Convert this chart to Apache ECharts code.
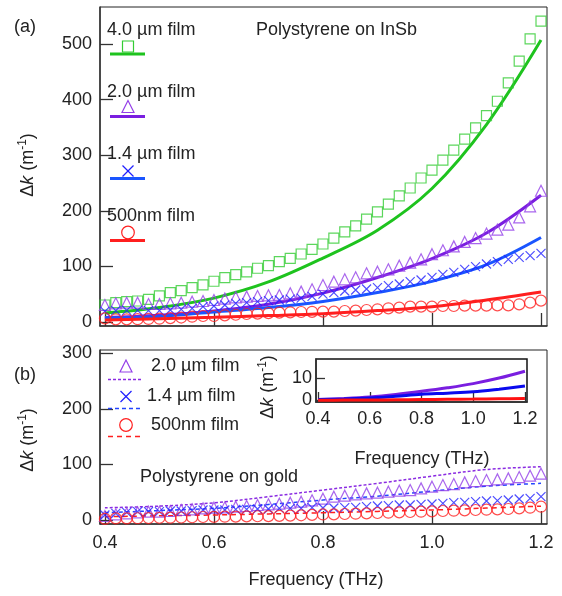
<!DOCTYPE html>
<html>
<head>
<meta charset="utf-8">
<script src="https://cdn.jsdelivr.net/npm/echarts@6/dist/echarts.min.js"></script>
<style>
  html, body { margin: 0; padding: 0; background: #fff; }
  #main { width: 562px; height: 596px; }
</style>
</head>
<body>
<div id="main"></div>
<script>
// measured frequencies (THz)
var freq = [0.40, 0.42, 0.44, 0.46, 0.48, 0.50, 0.52, 0.54, 0.56, 0.58,
            0.60, 0.62, 0.64, 0.66, 0.68, 0.70, 0.72, 0.74, 0.76, 0.78,
            0.80, 0.82, 0.84, 0.86, 0.88, 0.90, 0.92, 0.94, 0.96, 0.98,
            1.00, 1.02, 1.04, 1.06, 1.08, 1.10, 1.12, 1.14, 1.16, 1.18, 1.20];
// frequencies for the model curves
var fitFreq = [0.4, 0.5, 0.6, 0.7, 0.8, 0.9, 1.0, 1.1, 1.2];

var xTicks = [0.4, 0.6, 0.8, 1.0, 1.2];
var yTicksA = [0, 100, 200, 300, 400, 500];
var yTicksB = [0, 100, 200, 300];
var yTicksInset = [0, 10];

/* (a) polystyrene on InSb - measured */
var insb40 = [30.6, 34.8, 36.6, 37.8, 40.8, 46.8, 52.8, 56.5, 61.9, 66.7,
              73.3, 79.9, 85.3, 90.1, 96.7, 101.3, 108.5, 114.5, 122.3, 130.7,
              140.3, 151, 162, 173, 185, 198, 212, 227, 241, 259,
              273, 291, 309, 329, 349, 371, 397, 430, 469, 509, 541];
var insb20 = [30.6, 33.6, 34.8, 34.8, 32.4, 32.4, 33.6, 34.8, 36.6, 37.8,
              39.6, 42, 44.4, 45.6, 46.8, 48, 48.6, 51.6, 54.6, 58.8,
              66.5, 72.5, 76.7, 80.3, 87.5, 90.5, 94.7, 101.3, 106.7, 112.7,
              122, 129, 136, 144, 151, 159, 166, 175, 188, 208, 236];
var insb14 = [19, 20.4, 21, 21, 20.4, 20.4, 21.6, 22.8, 24.6, 27.6,
              28.8, 30.6, 33.6, 34.8, 36.6, 38.4, 39.6, 41, 43, 46,
              50, 52.8, 55.8, 57.6, 59.4, 61.8, 65.5, 68.3, 72.5, 75.5,
              80.3, 85.7, 89.3, 94.7, 99.5, 104.3, 108.5, 112.7, 116.3, 119.3, 123.5];
var insb05 = [6.6, 4.8, 4.8, 5, 5.5, 6, 7, 8, 9.5, 10.8,
              10.8, 12, 13, 14.4, 15, 16, 16.8, 17.4, 18, 18.3,
              18.6, 18.6, 19.8, 20.4, 21.6, 22.8, 24.6, 25.8, 27.6, 27.6,
              27.6, 28.8, 28.8, 29.4, 29.4, 29.4, 30, 30, 31.8, 34.8, 38.4];
/* (a) model */
var insbFit40 = [16, 26, 43, 72, 115, 165, 240, 355, 507];
var insbFit20 = [8, 12, 20, 32, 52, 80, 114, 160, 228];
var insbFit14 = [7, 10, 18, 26, 37, 53, 73, 103, 152];
var insbFit05 = [3.5, 6, 8.4, 11.5, 15, 20.5, 27.6, 39.6, 54];

/* (b) polystyrene on gold - measured */
var gold20 = [7.2, 10.2, 12, 13.8, 15, 15, 16.2, 18, 19.2, 21,
              22.2, 22.8, 24, 25.2, 27, 28.2, 29.4, 31.2, 33, 35.4,
              38.4, 42, 43.8, 46.2, 48, 49.2, 51, 52.8, 54, 57,
              60, 63, 64.8, 67.8, 70.2, 72, 73.2, 75, 77.4, 79.8, 83.4];
var gold14 = [9, 12, 13.8, 15, 15, 15, 16.2, 16.2, 16.8, 18,
              18, 18, 19.2, 19.2, 19.8, 19.8, 21, 21, 21, 22.2,
              21.6, 21.6, 22.2, 22.8, 24, 25.2, 25.8, 27, 27, 28.2,
              28.8, 30, 31.2, 31.8, 33, 34.2, 34.8, 36, 37.8, 39, 42];
var gold05 = [2, 3, 3, 3.2, 3.5, 4, 4.2, 4.5, 5, 5.4,
              5.6, 6, 6.2, 6.5, 6.8, 7, 7.5, 8, 8.5, 9.2,
              10, 10.2, 10.8, 11.4, 12, 12.6, 13.2, 13.8, 14.4, 15,
              15.6, 16.2, 16.8, 17.4, 18, 18.6, 19.2, 19.8, 21, 22.2, 24];
/* (b) model */
var goldFit20 = [22, 25, 31, 42, 54, 66, 79, 91, 96];
var goldFit14 = [13, 17, 21, 28, 36, 43, 52, 61, 66];
var goldFit05 = [6, 7.5, 9, 11, 13, 15.5, 18, 21.5, 25];

/* inset: model on gold, zoomed */
var insetFit20 = [0.3, 0.8, 1.5, 2.6, 4, 5.6, 7.5, 10, 13.1];
var insetFit14 = [0.3, 0.6, 1.0, 1.8, 2.7, 3.2, 3.8, 5.0, 6.4];
var insetFit05 = [0, 0.05, 0.1, 0.2, 0.3, 0.4, 0.5, 0.65, 0.8];

var C = {
    green: '#1ec31e', greenM: '#33cc33',
    purple: '#7a1ee0', purpleM: '#9440e8',
    blue: '#1a55ff', blueM: '#2020ff',
    red: '#ff1f1f', text: '#222', axis: '#333'
};
var FONT = 'Liberation Sans, Arial, sans-serif';
var X_PATH = 'path://M0,0L10,10M0,10L10,0';

function zip(xs, ys) {
    var out = [];
    for (var i = 0; i < xs.length; i++) out.push([xs[i], ys[i]]);
    return out;
}

function xAxisDef(grid, min, max, showLabel, tickLen) {
    return {
        type: 'value', gridIndex: grid, min: min, max: max,
        axisLine: { show: true, onZero: false, lineStyle: { color: C.axis, width: 1.5 } },
        axisTick: { show: true, inside: true, length: tickLen, customValues: xTicks,
                    lineStyle: { color: C.axis, width: 1.3 } },
        axisLabel: { show: showLabel, customValues: xTicks, margin: grid === 2 ? 8 : 10,
                     fontSize: 18, fontFamily: FONT, color: C.text,
                     formatter: function (v) { return v.toFixed(1); } },
        splitLine: { show: false }
    };
}
function yAxisDef(grid, min, max, ticks, tickLen, margin) {
    return {
        type: 'value', gridIndex: grid, min: min, max: max,
        axisLine: { show: true, onZero: false, lineStyle: { color: C.axis, width: 1.5 } },
        axisTick: { show: true, inside: true, length: tickLen, customValues: ticks,
                    lineStyle: { color: C.axis, width: 1.3 } },
        axisLabel: { customValues: ticks, margin: margin, fontSize: 18, fontFamily: FONT, color: C.text },
        splitLine: { show: false }
    };
}

function marks(name, idx, data, symbol, size, color) {
    return {
        name: name, type: 'scatter', xAxisIndex: idx, yAxisIndex: idx,
        data: data, symbol: symbol, symbolSize: size, z: 3,
        itemStyle: { color: 'rgba(0,0,0,0)', borderColor: color, borderWidth: 1.2 }
    };
}
function curve(name, idx, data, color, width, dash) {
    return {
        name: name, type: 'line', xAxisIndex: idx, yAxisIndex: idx,
        data: data, smooth: 0.35, showSymbol: false, symbol: 'none', z: 2,
        lineStyle: { color: color, width: width, type: dash || 'solid' }
    };
}

var series = [
    curve('4.0 fit', 0, zip(fitFreq, insbFit40), C.green, 3),
    curve('2.0 fit', 0, zip(fitFreq, insbFit20), C.purple, 3),
    curve('1.4 fit', 0, zip(fitFreq, insbFit14), C.blue, 3),
    curve('0.5 fit', 0, zip(fitFreq, insbFit05), C.red, 3),
    marks('4.0 µm film', 0, zip(freq, insb40), 'rect', 10, C.greenM),
    marks('2.0 µm film', 0, zip(freq, insb20), 'triangle', 11, C.purpleM),
    marks('1.4 µm film', 0, zip(freq, insb14), X_PATH, 9, C.blueM),
    marks('500nm film', 0, zip(freq, insb05), 'circle', 11, C.red),

    curve('2.0 gold fit', 1, zip(fitFreq, goldFit20), '#8a2be2', 1.5, [3, 2]),
    curve('1.4 gold fit', 1, zip(fitFreq, goldFit14), '#2244ff', 1.5, [4, 3]),
    curve('0.5 gold fit', 1, zip(fitFreq, goldFit05), C.red, 1.5, [5, 4]),
    marks('2.0 gold', 1, zip(freq, gold20), 'triangle', 11, C.purpleM),
    marks('1.4 gold', 1, zip(freq, gold14), X_PATH, 9, C.blueM),
    marks('0.5 gold', 1, zip(freq, gold05), 'circle', 11, C.red),

    curve('inset 2.0', 2, zip(fitFreq, insetFit20), C.purple, 3),
    curve('inset 1.4', 2, zip(fitFreq, insetFit14), '#0a0aee', 3),
    curve('inset 0.5', 2, zip(fitFreq, insetFit05), '#ff1010', 3)
];

function txt(s, x, y, align) {
    return { type: 'text', x: x, y: y, z: 10,
             style: { text: s, fill: C.text, font: '18px ' + FONT,
                      textAlign: align || 'left', textVerticalAlign: 'middle' } };
}
function dkLabel(x, y) {
    return {
        type: 'text', x: x, y: y, rotation: Math.PI / 2, z: 10,
        style: {
            text: '{n|Δ}{i|k}{n| (m}{s|-1}{n|)}',
            textAlign: 'center', textVerticalAlign: 'middle',
            rich: {
                n: { fontSize: 18, fontFamily: FONT, fill: C.text, lineHeight: 22 },
                i: { fontSize: 18, fontFamily: FONT, fontStyle: 'italic', fill: C.text, lineHeight: 22 },
                s: { fontSize: 12, fontFamily: FONT, fill: C.text, lineHeight: 22, verticalAlign: 'top', padding: [0, 0, 8, 0] }
            }
        }
    };
}
function hline(x1, x2, y, color, w, dash) {
    return { type: 'line', z: 10, shape: { x1: x1, y1: y, x2: x2, y2: y },
             style: { stroke: color, lineWidth: w, lineDash: dash || null } };
}
function keyRect(cx, cy, color) {
    return { type: 'rect', z: 10, shape: { x: cx - 5.5, y: cy - 5.5, width: 11, height: 11 },
             style: { fill: 'none', stroke: color, lineWidth: 1.2 } };
}
function keyTri(cx, cy, color) {
    return { type: 'polygon', z: 10, shape: { points: [[cx, cy - 6.5], [cx - 6, cy + 5.5], [cx + 6, cy + 5.5]] },
             style: { fill: 'none', stroke: color, lineWidth: 1.2 } };
}
function keyX(cx, cy, color) {
    return { type: 'group', z: 10, children: [
        { type: 'line', shape: { x1: cx - 5.5, y1: cy - 5.5, x2: cx + 5.5, y2: cy + 5.5 }, style: { stroke: color, lineWidth: 1.3 } },
        { type: 'line', shape: { x1: cx - 5.5, y1: cy + 5.5, x2: cx + 5.5, y2: cy - 5.5 }, style: { stroke: color, lineWidth: 1.3 } }
    ] };
}
function keyCircle(cx, cy, color) {
    return { type: 'circle', z: 10, shape: { cx: cx, cy: cy, r: 6.3 },
             style: { fill: 'none', stroke: color, lineWidth: 1.2 } };
}

var graphics = [
    txt('(a)', 14, 27), txt('(b)', 14, 375),
    dkLabel(28, 165), dkLabel(28, 440), dkLabel(268, 387),
    txt('Polystyrene on InSb', 256, 30),
    txt('Polystyrene on gold', 140, 477),
    txt('Frequency (THz)', 316, 580, 'center'),
    txt('Frequency (THz)', 422, 459, 'center'),

    txt('4.0 µm film', 107, 30), keyRect(128, 46.5, C.greenM), hline(110, 145, 54, C.green, 3),
    txt('2.0 µm film', 107, 92), keyTri(128, 107, C.purpleM), hline(110, 145, 116.5, C.purple, 3),
    txt('1.4 µm film', 107, 154), keyX(128, 171, C.blueM), hline(110, 145, 178.5, C.blue, 3),
    txt('500nm film', 107, 216), keyCircle(128, 232.5, C.red), hline(110, 145, 240.5, C.red, 3),

    keyTri(126, 366.5, C.purpleM), txt('2.0 µm film', 151, 366.5), hline(108, 143, 379.5, '#8a2be2', 1.5, [3, 2]),
    keyX(126, 396.5, C.blueM), txt('1.4 µm film', 147, 396.5), hline(108, 143, 408.5, '#2244ff', 1.5, [4, 3]),
    keyCircle(126, 425, C.red), txt('500nm film', 151, 425), hline(108, 143, 436.5, C.red, 1.5, [5, 4])
];

var myChart = echarts.init(document.getElementById('main'), null, { renderer: 'canvas' });
var option = {
    animation: false,
    backgroundColor: '#fff',
    grid: [
        { left: 100, top: 7, width: 447, height: 319, show: true, borderColor: '#222', borderWidth: 1 },
        { left: 100, top: 350, width: 447, height: 174, show: true, borderColor: '#222', borderWidth: 1 },
        { left: 316, top: 359, width: 211, height: 43, show: true, backgroundColor: '#fff', borderColor: '#111', borderWidth: 1.5 }
    ],
    xAxis: [
        xAxisDef(0, 0.391, 1.211, false, 13),
        xAxisDef(1, 0.391, 1.211, true, 13),
        xAxisDef(2, 0.392, 1.208, true, 10)
    ],
    yAxis: [
        yAxisDef(0, -7.2, 566.5, yTicksA, 13, 8),
        yAxisDef(1, -7.2, 306.3, yTicksB, 13, 8),
        yAxisDef(2, -0.8, 18.6, yTicksInset, 9, 4)
    ],
    series: series,
    graphic: graphics
};
myChart.setOption(option);
</script>
</body>
</html>
